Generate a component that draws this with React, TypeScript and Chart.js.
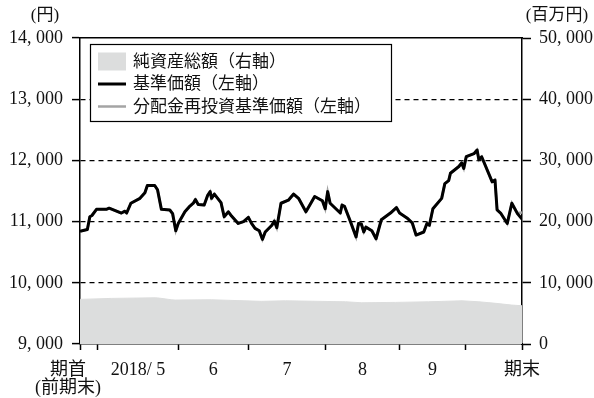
import React, { useEffect, useRef } from 'react';
import { Chart, registerables } from 'chart.js';

Chart.register(...registerables);

// ---- data (x = business-day index from period start) ----
const navDays = [
  0, 2.1, 2.8, 3.4, 4.7, 7.5, 8.3, 11.8, 12.8, 13.3, 14.5, 17.1, 18.5, 19.2, 21.3, 22.1, 23.2, 25.6, 26.4, 27.3,
  28.0, 29.9, 31.1, 32.3, 32.9, 33.7, 35.4, 36.4, 37.1, 37.5, 38.3, 40.2, 41.1, 42.3, 43.2, 45.1, 46.6, 48.0, 48.9, 49.9,
  51.1, 52.0, 52.8, 54.7, 55.4, 56.1, 57.3, 59.4, 60.9, 62.3, 64.4, 65.6, 66.9, 69.1, 69.9, 70.6, 71.3, 74.2, 74.7, 75.4,
  77.1, 78.7, 79.4, 80.2, 80.9, 81.5, 83.2, 84.4, 85.9, 88.5, 90.2, 91.1, 93.2, 94.7, 95.8, 98.0, 98.9, 99.6, 100.6, 103.1,
  104.0, 105.1, 105.6, 108.0, 108.8, 109.4, 110.1, 112.3, 113.2, 113.7, 114.5, 117.5, 118.3, 118.9, 119.9, 121.8, 123.1, 124.7, 126,
];
const navValues = [
  10840, 10870, 11080, 11100, 11200, 11200, 11220, 11140, 11170, 11140, 11300, 11380, 11470, 11590, 11590, 11520, 11200, 11190, 11130, 10850,
  10970, 11160, 11240, 11300, 11360, 11280, 11270, 11430, 11490, 11380, 11450, 11310, 11080, 11160, 11090, 10970, 11000, 11070, 10970, 10890,
  10850, 10710, 10830, 10940, 11010, 10900, 11300, 11350, 11450, 11380, 11160, 11280, 11410, 11340, 11210, 11490, 11300, 11140, 11270, 11250,
  11000, 10750, 10970, 10960, 10830, 10910, 10850, 10720, 11030, 11140, 11230, 11140, 11060, 10980, 10780, 10830, 10970, 10940, 11210, 11380,
  11620, 11670, 11790, 11900, 11960, 11870, 12060, 12110, 12170, 12010, 12060, 11650, 11680, 11190, 11140, 10970, 11300, 11130, 11040,
];
// reinvested NAV coincides with NAV except for the last two observations
const reinvestedValues = [...navValues.slice(0, -2), 11140, 11150];

const assetDays = [0, 8.9, 21.4, 22.6, 26.0, 27.1, 37.4, 51.7, 58.6, 75.7, 80.3, 90, 99.4, 108.9, 113.7, 118.6, 123.1, 126];
const assetValues = [7290, 7450, 7550, 7500, 7230, 7180, 7230, 6970, 7060, 6900, 6740, 6800, 6900, 7060, 6900, 6640, 6360, 6250];

const boundaryTicks = [0, 5, 28, 48, 70, 91, 110, 126];
const labelTickPositions = [-3.4, 16.5, 38, 59, 80.5, 100.5, 126];
const monthLabels: (string | string[])[] = [['期首', '(前期末)'], '2018/ 5', '6', '7', '8', '9', '期末'];

const seriesLabels = ['純資産総額（右軸）', '基準価額（左軸）', '分配金再投資基準価額（左軸）'];
const leftUnit = '(円)';
const rightUnit = '(百万円)';

const FONT = "'Liberation Serif', 'Noto Sans CJK JP', serif";

type XTick = { value: number; label: string | string[]; mark: boolean };
function buildXTicks(): XTick[] {
  const list: XTick[] = [];
  boundaryTicks.forEach((v) => list.push({ value: v, label: '', mark: true }));
  labelTickPositions.forEach((v, i) => {
    const ex = list.find((t) => t.value === v);
    if (ex) ex.label = monthLabels[i];
    else list.push({ value: v, label: monthLabels[i], mark: false });
  });
  return list.sort((a, b) => a.value - b.value);
}
const xTicks = buildXTicks();

const fmt = (v: number) => String(v).replace(/\B(?=(\d{3})+(?!\d))/g, ', ');

const legendPlugin = {
  id: 'boxLegend',
  afterDraw(chart: any) {
    const ctx = chart.ctx as CanvasRenderingContext2D;
    const a = chart.chartArea;
    const x0 = a.left + 10;
    const y0 = a.top + 6;
    const w = 301;
    const h = 77;
    ctx.save();
    ctx.fillStyle = '#fff';
    ctx.fillRect(x0, y0, w, h);
    ctx.strokeStyle = '#000';
    ctx.lineWidth = 1.2;
    ctx.strokeRect(x0 + 0.5, y0 + 0.5, w, h);
    const order = [2, 0, 1];
    ctx.font = `17px ${FONT}`;
    ctx.textBaseline = 'middle';
    ctx.textAlign = 'left';
    order.forEach((di, row) => {
      const ds = chart.data.datasets[di];
      const cy = y0 + 17.5 + row * 22.5;
      const sx = x0 + 8;
      const sw = 28;
      if (ds.fill) {
        ctx.fillStyle = ds.backgroundColor;
        ctx.fillRect(sx, cy - 9, sw, 18);
      } else {
        ctx.strokeStyle = ds.borderColor;
        ctx.lineWidth = ds.borderWidth;
        ctx.beginPath();
        ctx.moveTo(sx, cy);
        ctx.lineTo(sx + sw, cy);
        ctx.stroke();
      }
      ctx.fillStyle = '#111';
      ctx.fillText(ds.label, x0 + 43, cy + 1);
    });
    ctx.restore();
  },
};

const unitPlugin = {
  id: 'units',
  afterDraw(chart: any) {
    const ctx = chart.ctx as CanvasRenderingContext2D;
    const a = chart.chartArea;
    ctx.save();
    ctx.font = `17px ${FONT}`;
    ctx.fillStyle = '#111';
    ctx.textBaseline = 'middle';
    ctx.textAlign = 'center';
    ctx.fillText(leftUnit, a.left - 35, 16);
    ctx.fillText(rightUnit, a.right + 35, 16);
    ctx.restore();
  },
};

export default function App() {
  const ref = useRef<HTMLCanvasElement | null>(null);
  useEffect(() => {
    if (!ref.current) return;
    const tickFont = { family: FONT, size: 18, lineHeight: 1 };
    const chart = new Chart(ref.current, {
      type: 'line',
      data: {
        datasets: [
          {
            label: seriesLabels[1],
            data: navDays.map((d, i) => ({ x: d, y: navValues[i] })),
            xAxisID: 'x',
            yAxisID: 'y',
            borderColor: '#000',
            borderWidth: 3,
            borderJoinStyle: 'round',
            pointRadius: 0,
            tension: 0,
            fill: false,
            order: 0,
          },
          {
            label: seriesLabels[2],
            data: navDays.map((d, i) => ({ x: d, y: reinvestedValues[i] })),
            xAxisID: 'x',
            yAxisID: 'y',
            borderColor: '#a4a4a4',
            borderWidth: 2.5,
            pointRadius: 0,
            tension: 0,
            fill: false,
            order: 1,
          },
          {
            label: seriesLabels[0],
            data: assetDays.map((d, i) => ({ x: d, y: assetValues[i] })),
            xAxisID: 'x',
            yAxisID: 'y1',
            borderColor: '#dcdddd',
            borderWidth: 1,
            backgroundColor: '#dcdddd',
            pointRadius: 0,
            tension: 0,
            fill: 'origin',
            order: 2,
          },
        ] as any,
      },
      options: {
        animation: false,
        responsive: false,
        maintainAspectRatio: false,
        devicePixelRatio: 1,
        layout: { padding: { top: 38, left: 0, right: 0, bottom: 0 } },
        plugins: { legend: { display: false }, tooltip: { enabled: false } },
        scales: {
          x: {
            type: 'linear',
            position: 'bottom',
            min: 0,
            max: 126,
            afterBuildTicks: (s: any) => {
              s.ticks = xTicks.map((t) => ({ value: t.value }));
            },
            afterFit: (s: any) => {
              s.height = 54;
            },
            ticks: {
              autoSkip: false,
              maxRotation: 0,
              minRotation: 0,
              padding: 11,
              color: '#111',
              font: tickFont,
              callback: (_v: any, i: number) => xTicks[i].label,
            },
            grid: {
              drawOnChartArea: false,
              tickLength: 6,
              tickWidth: 1.5,
              tickColor: (c: any) => (xTicks[c.index] && xTicks[c.index].mark ? '#000' : 'rgba(0,0,0,0)'),
            },
            border: { display: true, color: '#000', width: 1.5 },
          },
          xTop: {
            type: 'linear',
            position: 'top',
            min: 0,
            max: 126,
            ticks: { display: false },
            grid: { drawOnChartArea: false, drawTicks: false },
            border: { display: true, color: '#000', width: 1.5 },
            afterFit: (s: any) => {
              s.height = 0;
            },
          },
          y: {
            type: 'linear',
            position: 'left',
            min: 9000,
            max: 14000,
            afterFit: (s: any) => {
              s.width = 80;
            },
            ticks: { stepSize: 1000, padding: 9, color: '#111', font: tickFont, callback: (v: any) => fmt(v) },
            grid: {
              color: (c: any) => (c.tick && (c.tick.value === 9000 || c.tick.value === 14000) ? 'rgba(0,0,0,0)' : '#000'),
              lineWidth: 1.2,
              tickLength: 8,
              tickColor: '#000',
              tickWidth: 1.5,
            },
            border: { display: true, color: '#000', width: 1.5, dash: [5, 4] },
          },
          y1: {
            type: 'linear',
            position: 'right',
            min: 0,
            max: 50000,
            afterFit: (s: any) => {
              s.width = 72;
            },
            ticks: { stepSize: 10000, padding: 8, color: '#111', font: tickFont, callback: (v: any) => fmt(v) },
            grid: { drawOnChartArea: false, tickLength: 9, tickColor: '#000', tickWidth: 1.5 },
            border: { display: true, color: '#000', width: 1.5 },
          },
        },
      } as any,
      plugins: [legendPlugin, unitPlugin],
    });
    return () => chart.destroy();
  }, []);
  return (
    <div style={{ position: 'absolute', left: 0, top: 0, width: 594, height: 398, background: '#fff' }}>
      <canvas ref={ref} width={594} height={398} />
    </div>
  );
}
